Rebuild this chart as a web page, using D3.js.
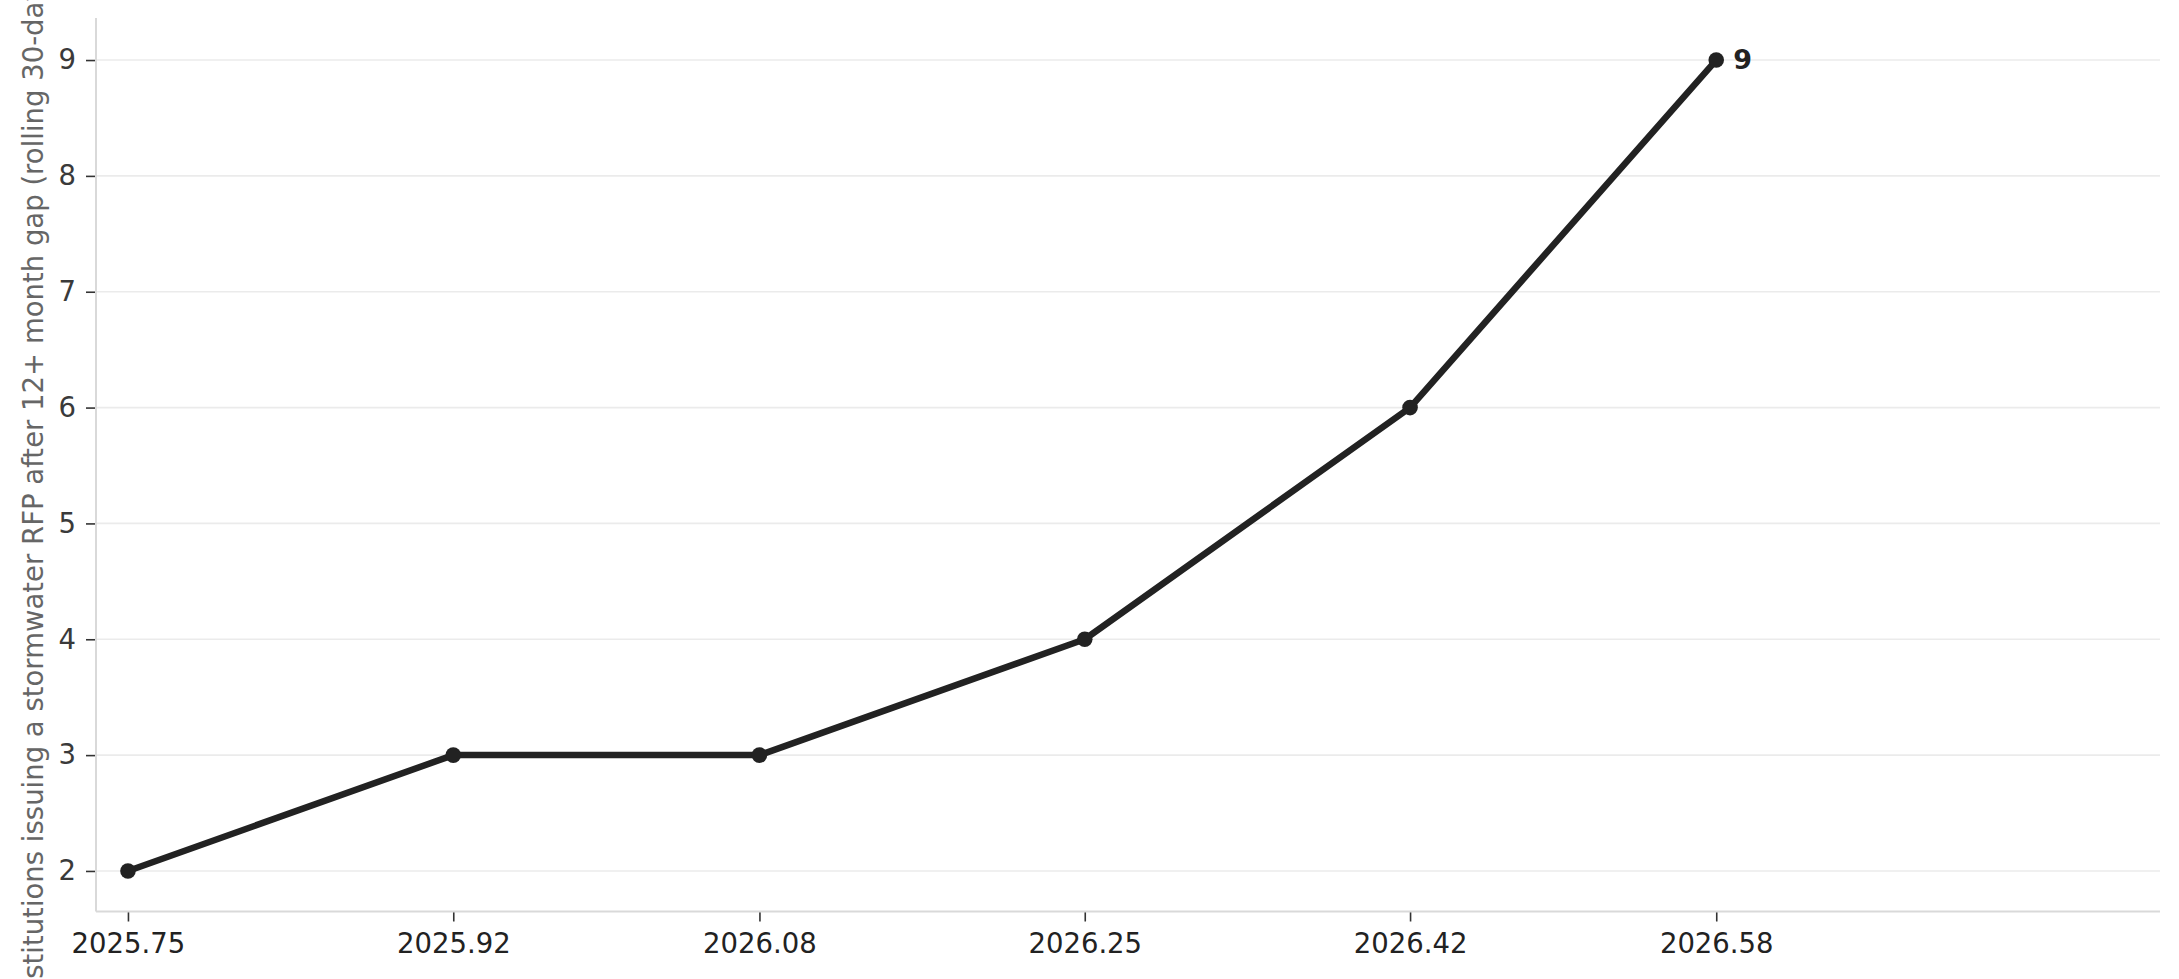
<!DOCTYPE html>
<html>
<head>
<meta charset="utf-8">
<script src="https://cdn.jsdelivr.net/npm/d3@7/dist/d3.min.js"></script>
<style>
  html, body { margin: 0; padding: 0; background: #fff; }
  svg { display: block; font-family: "DejaVu Sans", sans-serif; }
</style>
</head>
<body>
<svg id="chart" width="2179" height="979"></svg>
<script>
// ---- data ----
const xValues = [2025.75, 2025.92, 2026.08, 2026.25, 2026.42, 2026.58];
const yValues = [2, 3, 3, 4, 6, 9];
const xTickValues = [2025.75, 2025.92, 2026.08, 2026.25, 2026.42, 2026.58];
const yTickValues = [2, 3, 4, 5, 6, 7, 8, 9];
const yLabel = "Institutions issuing a stormwater RFP after 12+ month gap (rolling 30-day)";
const xDomain = [2025.7333, 2026.8119];
const yDomain = [1.65, 9.35];

// ---- layout ----
const plotL = 96, plotR = 2160, plotT = 19.5, plotB = 911.5;

const svg = d3.select("#chart");
const x = d3.scaleLinear().domain(xDomain).range([plotL, plotR]);
const y = d3.scaleLinear().domain(yDomain).range([plotB, plotT]);

// gridlines
svg.append("g")
  .selectAll("line")
  .data(yTickValues)
  .join("line")
  .attr("x1", plotL).attr("x2", plotR)
  .attr("y1", d => y(d)).attr("y2", d => y(d))
  .attr("stroke", "#ebebeb").attr("stroke-width", 1.6);

// y axis
const yAxis = svg.append("g")
  .attr("transform", `translate(${plotL},0)`)
  .call(d3.axisLeft(y).tickValues(yTickValues).tickFormat(d3.format("d")).tickSize(10).tickPadding(10));
yAxis.select(".domain").remove();
yAxis.selectAll(".tick line").attr("stroke", "#333").attr("stroke-width", 1.6);
yAxis.selectAll(".tick text").attr("fill", "#3a3a3a").attr("font-size", 27.5)
  .attr("font-family", "DejaVu Sans");

// x axis
const xAxis = svg.append("g")
  .attr("transform", `translate(0,${plotB})`)
  .call(d3.axisBottom(x).tickValues(xTickValues).tickFormat(d3.format(".2f")).tickSize(10).tickPadding(12));
xAxis.select(".domain").remove();
xAxis.selectAll(".tick line").attr("stroke", "#333").attr("stroke-width", 1.6);
xAxis.selectAll(".tick text").attr("fill", "#222").attr("font-size", 27.5)
  .attr("font-family", "DejaVu Sans");

// spines
svg.append("line").attr("x1", plotL).attr("x2", plotL).attr("y1", plotT - 1.5).attr("y2", plotB)
  .attr("stroke", "#d9d9d9").attr("stroke-width", 2);
svg.append("line").attr("x1", plotL).attr("x2", plotR).attr("y1", plotB).attr("y2", plotB)
  .attr("stroke", "#d9d9d9").attr("stroke-width", 2);

// y label
svg.append("text")
  .attr("transform", `translate(43,${(plotT + plotB) / 2 + 24}) rotate(-90)`)
  .attr("text-anchor", "middle")
  .attr("fill", "#666")
  .attr("font-size", 27.5)
  .text(yLabel);

// line
const pts = xValues.map((v, i) => [v, yValues[i]]);
svg.append("path")
  .datum(pts)
  .attr("d", d3.line().x(d => x(d[0])).y(d => y(d[1])))
  .attr("fill", "none")
  .attr("stroke", "#222")
  .attr("stroke-width", 6.5)
  .attr("stroke-linejoin", "round");

svg.append("g")
  .selectAll("circle")
  .data(pts)
  .join("circle")
  .attr("cx", d => x(d[0])).attr("cy", d => y(d[1]))
  .attr("r", 7.8).attr("fill", "#222");

// end label
const last = pts[pts.length - 1];
svg.append("text")
  .attr("x", x(last[0]) + 17)
  .attr("y", y(last[1]))
  .attr("dy", "0.35em")
  .attr("font-size", 27)
  .attr("font-weight", "bold")
  .attr("fill", "#222")
  .text(d3.format("d")(last[1]));
</script>
</body>
</html>
